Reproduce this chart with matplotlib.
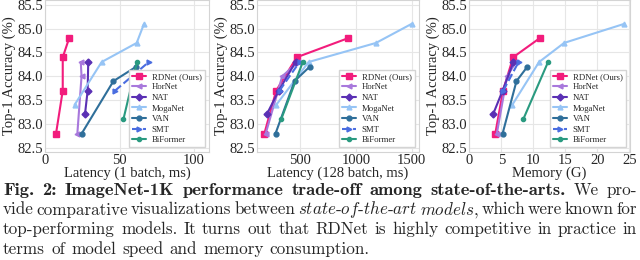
import matplotlib
matplotlib.use("Agg")
import matplotlib.pyplot as plt

# ---- data ----
models = ["RDNet (Ours)", "HorNet", "NAT", "MogaNet", "VAN", "SMT", "BiFormer"]

acc = {
    "RDNet (Ours)": [82.8, 83.7, 84.4, 84.8],
    "HorNet": [82.8, 84.0, 84.3],
    "NAT": [83.2, 83.7, 84.3],
    "MogaNet": [83.4, 84.3, 84.7, 85.1],
    "VAN": [82.8, 83.9, 84.2],
    "SMT": [83.7, 84.3],
    "BiFormer": [83.1, 84.3],
}

latency_1 = {
    "RDNet (Ours)": [7.4, 11.9, 11.9, 16.2],
    "HorNet": [21.7, 24.5, 24.0],
    "NAT": [26.8, 28.6, 29.0],
    "MogaNet": [19.8, 38.0, 61.5, 66.4],
    "VAN": [24.6, 45.9, 61.1],
    "SMT": [47.0, 69.6],
    "BiFormer": [52.6, 61.7],
}

latency_128 = {
    "RDNet (Ours)": [178, 284, 469, 930],
    "HorNet": [190, 338, 480],
    "NAT": [199, 307, 458],
    "MogaNet": [284, 575, 1180, 1500],
    "VAN": [278, 449, 584],
    "SMT": [314, 494],
    "BiFormer": [329, 523],
}

memory = {
    "RDNet (Ours)": [4.06, 5.27, 6.85, 11.0],
    "HorNet": [4.3, 5.9, 7.3],
    "NAT": [3.7, 5.2, 6.9],
    "MogaNet": [6.7, 10.9, 14.8, 24.2],
    "VAN": [5.2, 7.37, 9.06],
    "SMT": [5.3, 7.7],
    "BiFormer": [8.43, 12.3],
}

yticks = [82.5, 83.0, 83.5, 84.0, 84.5, 85.0, 85.5]

styles = {
    "RDNet (Ours)": dict(color="#f21c7c", marker="s", ls="-", ms=4),
    "HorNet": dict(color="#a878dc", marker="<", ls="-", ms=3.5),
    "NAT": dict(color="#5a30b4", marker="D", ls="-", ms=3.5),
    "MogaNet": dict(color="#96c4f5", marker="^", ls="-", ms=3.5),
    "VAN": dict(color="#2f6f9a", marker="o", ls="-", ms=3.5),
    "SMT": dict(color="#4a6de0", marker=">", ls="--", ms=3.5),
    "BiFormer": dict(color="#2a9a80", marker="o", ls="-", ms=3),
}

plt.style.use("seaborn-v0_8-whitegrid")
plt.rcParams.update({
    "font.family": ["Liberation Serif", "DejaVu Serif"],
    "font.size": 10.5,
    "axes.edgecolor": "#d4d4d4",
    "grid.color": "#e6e6e6",
    "axes.linewidth": 0.8,
    "mathtext.fontset": "cm",
})

fig = plt.figure(figsize=(6.4, 2.6), dpi=100)

panels = [
    (latency_1, "Latency (1 batch, ms)", [45, 209], (0, 110), [0, 50, 100]),
    (latency_128, "Latency (128 batch, ms)", [257, 419], None, [500, 1000, 1500]),
    (memory, "Memory (G)", [469.3, 630], (0, 25.1), [0, 5, 10, 15, 20, 25]),
]

W, H = 640, 260
for xdata, xlabel, (x0, x1), xlim, xticks in panels:
    ax = fig.add_axes([x0 / W, 1 - 151.7 / H, (x1 - x0) / W, 151.7 / H])
    for m in models:
        st = styles[m]
        ax.plot(xdata[m], acc[m], color=st["color"], marker=st["marker"],
                linestyle=st["ls"], markersize=st["ms"], linewidth=1.5, label=m)
    if xlim is not None:
        ax.set_xlim(*xlim)
    ax.set_xticks(xticks)
    ax.set_ylim(82.42, 85.6)
    ax.set_yticks(yticks)
    ax.set_yticklabels([f"{v:.1f}" for v in yticks])
    ax.tick_params(axis="both", labelsize=10.5, pad=1.5, length=0)
    ax.set_xlabel(xlabel, fontsize=10.5, labelpad=0)
    ax.set_ylabel("Top-1 Accuracy (%)", fontsize=10.5, labelpad=1)
    ax.legend(loc="lower right", fontsize=6.3, frameon=True, framealpha=1,
              edgecolor="#d4d4d4", fancybox=False, handlelength=1.7,
              labelspacing=0.28, borderpad=0.35, handletextpad=0.6,
              borderaxespad=0.5)

# ---- caption, justified word by word ----
cap_size = 12.3
reg = dict(family="cmr10", fontsize=cap_size)
bold = dict(family="cmb10", fontsize=cap_size)

lines = [
    ([("Fig.", bold), ("2:", bold), ("ImageNet-1K", bold), ("performance", bold),
      ("trade-off", bold), ("among", bold), ("state-of-the-arts.", bold),
      ("We", reg), ("pro-", reg)], True),
    ([("vide", reg), ("comparative", reg), ("visualizations", reg), ("between", reg),
      (r"$\mathit{state}$-$\mathit{of}$-$\mathit{the}$-$\mathit{art}$", reg),
      (r"$\mathit{models}$,", reg), ("which", reg), ("were", reg),
      ("known", reg), ("for", reg)], True),
    ([(w, reg) for w in "top-performing models. It turns out that RDNet is highly "
      "competitive in practice in".split()], True),
    ([(w, reg) for w in "terms of model speed and memory consumption.".split()], False),
]
baselines = [194.8, 214.5, 234.2, 253.9]
left, right = 3, 637
space = cap_size * 100 / 72 * 0.36

fig.canvas.draw()
renderer = fig.canvas.get_renderer()
for i, ((words, justify), yb) in enumerate(zip(lines, baselines)):
    texts = [fig.text(0, 1 - yb / H, w, va="baseline", ha="left", **p) for w, p in words]
    widths = [t.get_window_extent(renderer).width for t in texts]
    if i == 0:
        # the bold run is set a little wider in the reference
        nb = sum(1 for _, p in words if p is bold)
        bw = sum(widths[:nb])
        need = right - left - sum(widths[nb:]) - space * (len(texts) - 1)
        scale = min(need / bw, 1.08)
        for t in texts[:nb]:
            t.set_fontsize(cap_size * scale)
        widths = [t.get_window_extent(renderer).width for t in texts]
    if justify:
        gap = (right - left - sum(widths)) / (len(texts) - 1)
    else:
        gap = space
    x = left
    for t, w in zip(texts, widths):
        t.set_x(x / W)
        x += w + gap

fig.savefig("out.png", dpi=100)
